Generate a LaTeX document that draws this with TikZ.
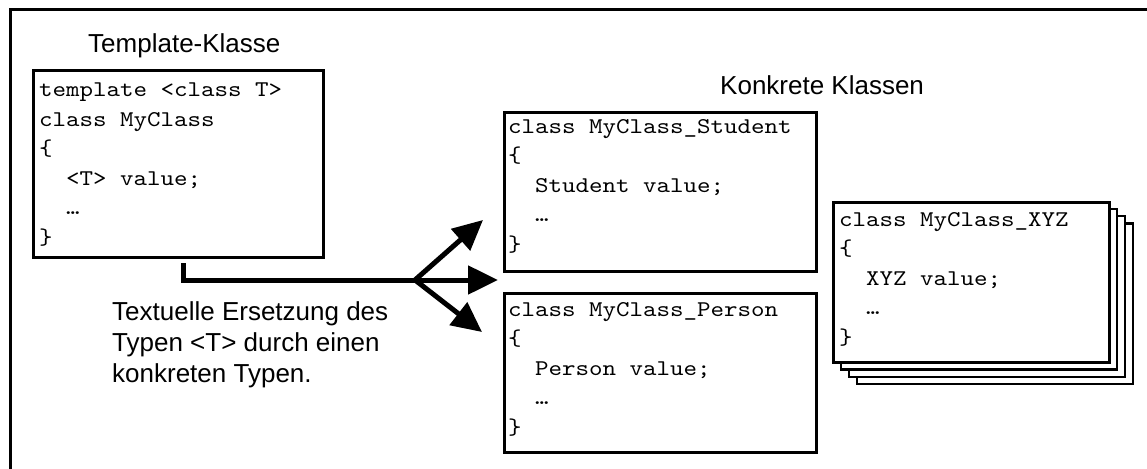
\documentclass[tikz,border=0pt]{standalone}
\usepackage{fontspec}
\setmainfont{Liberation Sans}
\newfontfamily\codefont[FakeStretch=1.143]{lmmono10-regular.otf}
\usetikzlibrary{arrows.meta}

% one code line per node, baselines 29.5pt apart
\newcommand\codeblock[4]{%
  \foreach \cl [count=\k from 0] in {#4}
    \node[code] (#1\k) at (#2, {#3+29.5*\k}) {\cl};%
}

\begin{document}
\begin{tikzpicture}[x=1pt, y=-1pt,
  frame/.style={line width=3pt},
  classbox/.style={draw, line width=3pt, fill=white, rectangle,
                   anchor=north west, inner sep=0pt},
  stackbox/.style={draw, line width=2.2pt, fill=white, rectangle,
                   anchor=north west, inner sep=0pt},
  code/.style={font=\codefont\fontsize{22.5}{27}\selectfont,
               anchor=base west, inner sep=0pt},
  caption/.style={font=\fontsize{26}{31}\selectfont,
                  anchor=base west, inner sep=0pt},
  conn/.style={line width=5pt},
  bigtip/.style={-{Triangle[length=30pt,width=28pt]}},
  fork/.style={{Triangle[length=30pt,width=28pt]}-{Triangle[length=30pt,width=28pt]}}
]
\clip (0,0) rectangle (1147,468);
\fill[white] (0,0) rectangle (1147,468);

% surrounding frame (runs past the right and bottom edges)
\draw[frame] (1170,10) -- (10,10) -- (10,490);

% template class
\node[caption] (tpltitle) at (88,53) {Template-Klasse};
\node[classbox, minimum width=290, minimum height=186] (tpl) at (32,69.5) {};
\codeblock{tplc}{39}{96.7}{template <class T>, class MyClass, \{,
  \phantom{xx}<T> value;, \phantom{xx}…, \}}

% concrete classes
\node[caption] (konktitle) at (720,95) {Konkrete Klassen};

\node[classbox, minimum width=311.5, minimum height=159] (stu) at (503,110.8) {};
\codeblock{stuc}{508}{133}{class MyClass\_Student, \{,
  \phantom{xx}Student value;, \phantom{xx}…, \}}

\node[classbox, minimum width=311.5, minimum height=159] (per) at (503,291.5) {};
\codeblock{perc}{508}{316}{class MyClass\_Person, \{,
  \phantom{xx}Person value;, \phantom{xx}…, \}}

% stack of further classes, back to front
\foreach \i in {3,2,1}
  \node[stackbox, minimum width=276, minimum height=160.5]
    (xyz\i) at ({832+8*\i},{200.5+7.3*\i}) {};
\node[classbox, minimum width=276, minimum height=160.5] (xyz) at (832,200.5) {};
\codeblock{xyzc}{839}{226}{class MyClass\_XYZ, \{,
  \phantom{xx}XYZ value;, \phantom{xx}…, \}}

% substitution arrows
\coordinate (start) at (183,263);
\coordinate (split) at (415,280);
\coordinate (tipA) at (483,220);
\coordinate (tipB) at (498,280);
\coordinate (tipC) at (482,332);
\draw[conn, bigtip] (start) |- (tipB);
\draw[conn, fork] (tipA) -- (split) -- (tipC);

\node[caption] (lab1) at (112,320) {Textuelle Ersetzung des};
\node[caption] (lab2) at (112,351) {Typen <T> durch einen};
\node[caption] (lab3) at (112,382) {konkreten Typen.};
\end{tikzpicture}
\end{document}
